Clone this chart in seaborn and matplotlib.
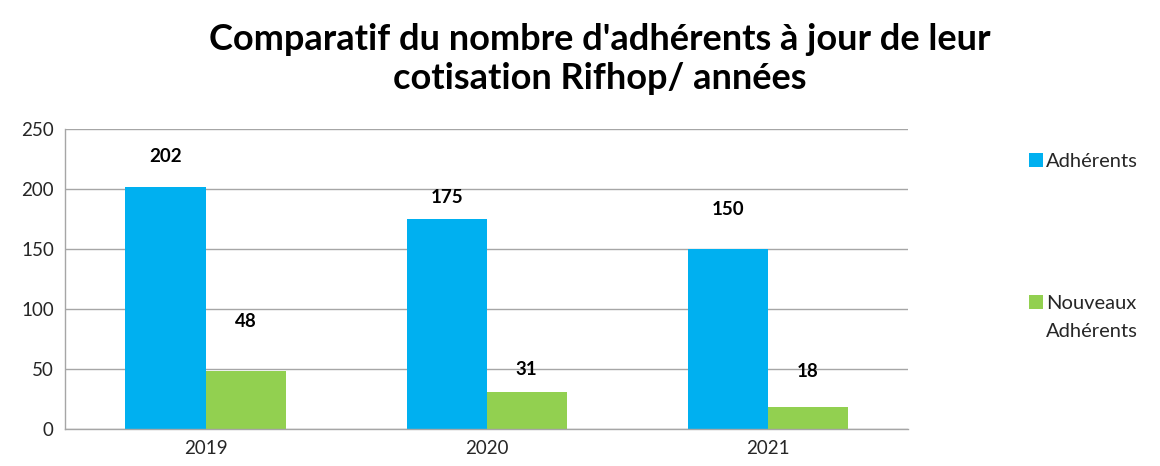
import matplotlib
matplotlib.use("Agg")
import matplotlib.pyplot as plt
from matplotlib.patches import Rectangle
from matplotlib.legend_handler import HandlerPatch
import seaborn as sns
import pandas as pd

years = ["2019", "2020", "2021"]
adherents = [202, 175, 150]
nouveaux = [48, 31, 18]
series_names = ["Adhérents", "Nouveaux\nAdhérents"]
title = "Comparatif du nombre d'adhérents à jour de leur\ncotisation Rifhop/ années"

colors = ["#00B0F0", "#92D050"]
# label vertical offsets (pixels above bar top), styling only
label_offsets = [[30, 22, 40], [50, 22, 36]]

df = pd.DataFrame({
    "year": years * 2,
    "value": adherents + nouveaux,
    "series": [series_names[0]] * 3 + [series_names[1]] * 3,
})

sns.set_theme(style="white")
plt.rcParams["font.family"] = ["Lato", "DejaVu Sans"]

fig = plt.figure(figsize=(11.6, 4.66), dpi=100)
ax = fig.add_axes([0.056, 0.0794, 0.727, 0.6436])

sns.barplot(data=df, x="year", y="value", hue="series", palette=colors,
            width=0.57, ax=ax, saturation=1, linewidth=0, legend=True)

ax.set_ylim(0, 250)
ax.set_yticks([0, 50, 100, 150, 200, 250])
ax.set_xlim(-0.5, 2.5)
ax.yaxis.grid(True, color="#A6A6A6", linewidth=1)
ax.set_axisbelow(True)
for s in ["top", "right"]:
    ax.spines[s].set_visible(False)
for s in ["left", "bottom"]:
    ax.spines[s].set_color("#A6A6A6")
    ax.spines[s].set_linewidth(1)
ax.set_xlabel("")
ax.set_ylabel("")
ax.tick_params(axis="both", labelsize=13.5, length=0, pad=8)
for t in ax.get_xticklabels() + ax.get_yticklabels():
    t.set_color("#262626")

for ci, cont in enumerate(ax.containers):
    for bi, bar in enumerate(cont):
        h = bar.get_height()
        ax.annotate(f"{int(round(h))}", (bar.get_x() + bar.get_width() / 2, h),
                    xytext=(0, label_offsets[ci][bi] * 0.72), textcoords="offset points",
                    ha="center", va="center", fontsize=13.5, fontweight="bold",
                    color="black")


class ShiftedSquare(HandlerPatch):
    def __init__(self, dy=0.0):
        super().__init__()
        self.dy = dy

    def create_artists(self, legend, orig_handle, xdescent, ydescent, width,
                       height, fontsize, trans):
        p = Rectangle((-xdescent, -ydescent + self.dy), width, height,
                      facecolor=orig_handle.get_facecolor(), edgecolor="none",
                      transform=trans)
        return [p]


handles, labels = ax.get_legend_handles_labels()
ax.get_legend().remove()
leg = ax.legend(handles, labels, loc="upper left", bbox_to_anchor=(1.122, 0.98),
                frameon=False, fontsize=14.5, handlelength=0.7, handleheight=0.7,
                handletextpad=0.15, labelspacing=6.2,
                handler_map={handles[0]: ShiftedSquare(0),
                             handles[1]: ShiftedSquare(11.5)})
for txt in leg.get_texts():
    txt.set_color("#262626")
    txt.set_multialignment("left")
    txt.set_linespacing(1.8)

fig.text(0.517, 0.95, title, ha="center", va="top", fontsize=26,
         fontweight="bold", color="black", linespacing=1.22)

fig.savefig("out.png", dpi=100)
